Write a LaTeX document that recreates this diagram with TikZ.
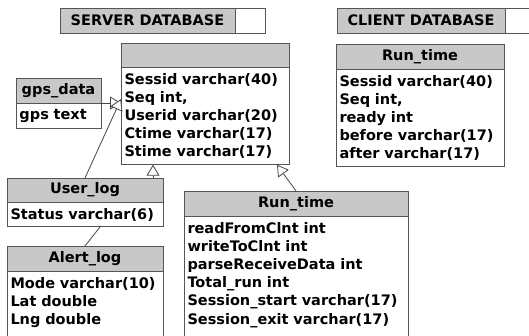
\documentclass[tikz,border=0pt]{standalone}
\usepackage{fontspec}
\setmainfont{DejaVu Sans}
\usetikzlibrary{arrows.meta,positioning}
\definecolor{hdr}{RGB}{200,200,200}
\definecolor{edge}{RGB}{85,85,85}

\begin{document}
\begin{tikzpicture}[x=1pt, y=-1pt,
  every node/.style={draw=edge, line width=0.9pt, inner sep=0pt, outer sep=0pt, font=\bfseries\fontsize{14.5}{18.2}\selectfont},
  head/.style={fill=hdr, anchor=north west, minimum height=25pt},
  body/.style={fill=white, anchor=north west, align=left, inner xsep=3.5pt, inner ysep=6pt},
  link/.style={draw=edge!80!black, line width=0.8pt},
  isa/.style={link, -{Triangle[open, length=11pt, width=13pt, fill=white]}}]
\useasboundingbox (0,0) rectangle (529,335);

% database titles
\node[head, minimum width=175pt] (srvdb) at (60,8) {SERVER DATABASE};
\node[fill=white, minimum width=30pt, minimum height=25pt, right=0pt of srvdb] (srvend) {};
\node[head, minimum width=168pt] (clidb) at (337,8) {CLIENT DATABASE};
\node[fill=white, minimum width=30pt, minimum height=25pt, right=0pt of clidb] (cliend) {};

% server tables
\node[head, minimum width=168pt, minimum height=24pt] (mainh) at (121,43) {};
\node[body, text width=161pt] (mainb) at (mainh.south west) {Sessid varchar(40)\\Seq int,\\Userid varchar(20)\\Ctime varchar(17)\\Stime varchar(17)};
\node[head, minimum width=85pt] (gpsh) at (16,78) {gps\_data};
\node[body, text width=78pt] (gpsb) at (gpsh.south west) {gps text};
\node[head, minimum width=156pt, minimum height=24pt] (userh) at (7,178) {User\_log};
\node[body, text width=149pt] (userb) at (userh.south west) {Status varchar(6)};
\node[head, minimum width=156pt] (alerth) at (7,246) {Alert\_log};
\node[body, text width=149pt, text depth=80pt] (alertb) at (alerth.south west) {Mode varchar(10)\\Lat double\\Lng double};
\node[head, minimum width=224pt] (runh) at (184,191) {Run\_time};
\node[body, text width=217pt, text depth=120pt] (runb) at (runh.south west) {readFromClnt int\\writeToClnt int\\parseReceiveData int\\Total\_run int\\Session\_start varchar(17)\\Session\_exit varchar(17)};

% client table
\node[head, minimum width=168pt] (clih) at (336,44) {Run\_time};
\node[body, text width=161pt] (clib) at (clih.south west) {Sessid varchar(40)\\Seq int,\\ready int\\before varchar(17)\\after varchar(17)};

% links
\draw[isa] (gpsh.south east) -- (gpsh.south east -| mainb.west);
\draw[isa] (userh.north) -- ([yshift=-32pt]mainb.north west);
\draw[isa] ([xshift=68pt]userh.north) -- ([xshift=68pt]userh.north |- mainb.south);
\draw[link] (alerth.north) -- ([xshift=15pt]userb.south);
\draw[isa] (runh.north) -- ([xshift=-12pt]mainb.south east);
\end{tikzpicture}
\end{document}
